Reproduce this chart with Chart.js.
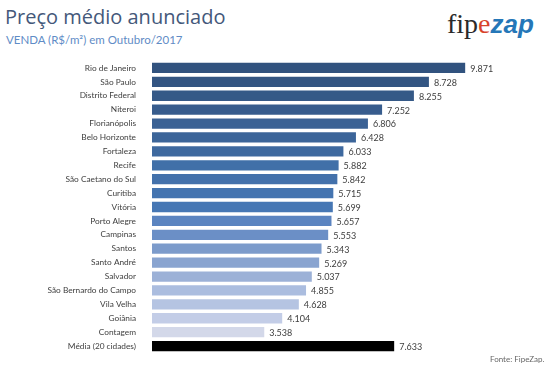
<!DOCTYPE html>
<html>
<head>
<meta charset="utf-8">
<script src="https://cdn.jsdelivr.net/npm/chart.js@4"></script>
<style>
  html, body { margin: 0; padding: 0; background: #fff; }
  body { width: 560px; height: 369px; position: relative; overflow: hidden; font-family: "Open Sans", "Noto Sans", sans-serif; }
  #titulo { position: absolute; left: 5px; top: 3px; font-size: 20px; color: #44587a; white-space: nowrap; }
  #sub { position: absolute; left: 6px; top: 33px; font-size: 11.5px; color: #5f8cc6; white-space: nowrap; font-family: Lato, sans-serif; }
  #logo { position: absolute; left: 447px; top: 3px; font-size: 28px; white-space: nowrap; }
  #logo .fip { font-family: "Liberation Serif", "DejaVu Serif", serif; color: #2a2a2a; }
  #logo .e { font-family: "Liberation Serif", "DejaVu Serif", serif; color: #d8432b; }
  #logo .zap { font-family: "Liberation Sans", sans-serif; font-weight: bold; font-style: italic; color: #2577b8; font-size: 26px; }
  #fonte { position: absolute; left: 490px; top: 354px; font-size: 8px; color: #666; font-family: Lato, sans-serif; }
  #grafico { position: absolute; left: 0; top: 0; }
</style>
</head>
<body>
<div id="titulo">Preço médio anunciado</div>
<div id="sub">VENDA (R$/m²) em Outubro/2017</div>
<div id="logo"><span class="fip">fip</span><span class="e">e</span><span class="zap">zap</span></div>
<canvas id="grafico" width="560" height="369"></canvas>
<div id="fonte">Fonte: FipeZap.</div>
<script>
const cidades = ["Rio de Janeiro", "São Paulo", "Distrito Federal", "Niteroi", "Florianópolis",
  "Belo Horizonte", "Fortaleza", "Recife", "São Caetano do Sul", "Curitiba", "Vitória",
  "Porto Alegre", "Campinas", "Santos", "Santo André", "Salvador", "São Bernardo do Campo",
  "Vila Velha", "Goiânia", "Contagem", "Média (20 cidades)"];
const precos = [9871, 8728, 8255, 7252, 6806, 6428, 6033, 5882, 5842, 5715, 5699,
  5657, 5553, 5343, 5269, 5037, 4855, 4628, 4104, 3538, 7633];
const cores = ["#31527e", "#335582", "#355987", "#375c8d", "#3a6194", "#3c6599", "#3e699f",
  "#4170a8", "#4371ab", "#4474b0", "#4677b4", "#5b84c0", "#6b8fc6", "#7c9bcb", "#89a4d0",
  "#9cb1d7", "#abbddf", "#b5c4e2", "#c3cde7", "#d3d8e9", "#000000"];

function formata(v) {
  return String(v).replace(/\B(?=(\d{3})+(?!\d))/g, ".");
}

const rotulos = {
  id: "rotulos",
  afterDatasetsDraw(chart) {
    const ctx = chart.ctx;
    const meta = chart.getDatasetMeta(0);
    ctx.save();
    ctx.font = "9px Lato, sans-serif";
    ctx.fillStyle = "#404040";
    ctx.textAlign = "left";
    ctx.textBaseline = "middle";
    meta.data.forEach((bar, i) => {
      ctx.fillText(formata(precos[i]), bar.x + 5, bar.y + 1);
    });
    ctx.restore();
  }
};

const ctx = document.getElementById("grafico").getContext("2d");
new Chart(ctx, {
  type: "bar",
  data: {
    labels: cidades,
    datasets: [{
      data: precos,
      backgroundColor: cores,
      barPercentage: 0.74,
      categoryPercentage: 1
    }]
  },
  options: {
    indexAxis: "y",
    responsive: false,
    animation: false,
    layout: { padding: { left: 0, right: 59, top: 61, bottom: 16 } },
    plugins: { legend: { display: false }, tooltip: { enabled: false } },
    scales: {
      x: { display: false, min: 0, max: 11000 },
      y: {
        grid: { display: false },
        border: { display: false },
        ticks: {
          color: "#404040",
          font: { family: "Lato, sans-serif", size: 8.3 },
          padding: 8,
          autoSkip: false
        },
        afterFit(scale) { scale.width = 152; }
      }
    }
  },
  plugins: [rotulos]
});
</script>
</body>
</html>
